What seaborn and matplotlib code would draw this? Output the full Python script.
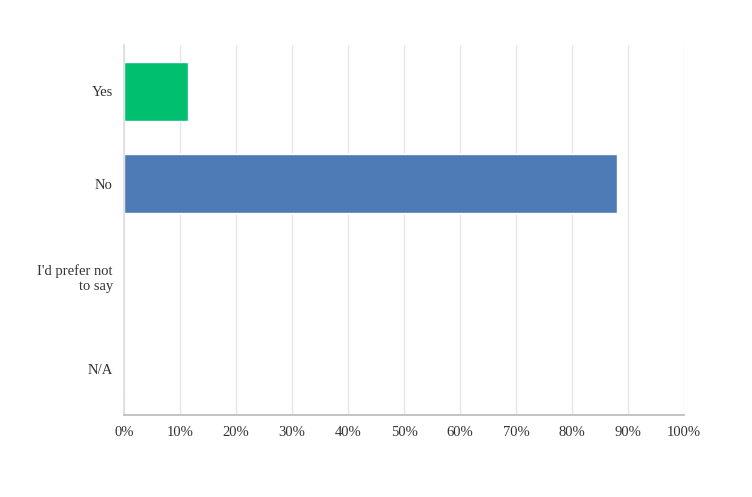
import matplotlib
matplotlib.use("Agg")
import matplotlib.pyplot as plt
import seaborn as sns
import pandas as pd
from matplotlib.ticker import PercentFormatter

categories = ["Yes", "No", "I'd prefer not\nto say", "N/A"]
values = [0.115, 0.88, 0.0, 0.0]
colors = ["#00bf6f", "#4e7ab5", "#4e7ab5", "#4e7ab5"]
xticks = [i / 10 for i in range(11)]

sns.set_theme(style="white")
plt.rcParams['font.family'] = ['Liberation Serif', 'DejaVu Serif']

df = pd.DataFrame({"cat": categories, "val": values})
fig = plt.figure(figsize=(7.52, 4.97), dpi=100)
ax = fig.add_axes([0.165, 0.165, 0.7446, 0.7445])
sns.barplot(data=df, x="val", y="cat", hue="cat", palette=colors, legend=False,
            width=0.64, saturation=1, ax=ax)
ax.set_xlim(0, 1)
ax.set_ylim(3.5, -0.5)
ax.set_xticks(xticks)
ax.xaxis.set_major_formatter(PercentFormatter(1.0, decimals=0))
ax.grid(axis="x", color="#e6e6e6", linewidth=1)
ax.set_axisbelow(True)
ax.set_xlabel("")
ax.set_ylabel("")
for s in ["top", "right"]:
    ax.spines[s].set_visible(False)
ax.spines["left"].set_color("#dddddd")
ax.spines["bottom"].set_color("#bbbbbb")
ax.tick_params(axis="both", length=0, labelsize=10.5, colors="#333333", pad=8)
for lab in ax.get_yticklabels():
    lab.set_horizontalalignment("right")
    lab.set_multialignment("right")
fig.savefig("out.png", dpi=100)
